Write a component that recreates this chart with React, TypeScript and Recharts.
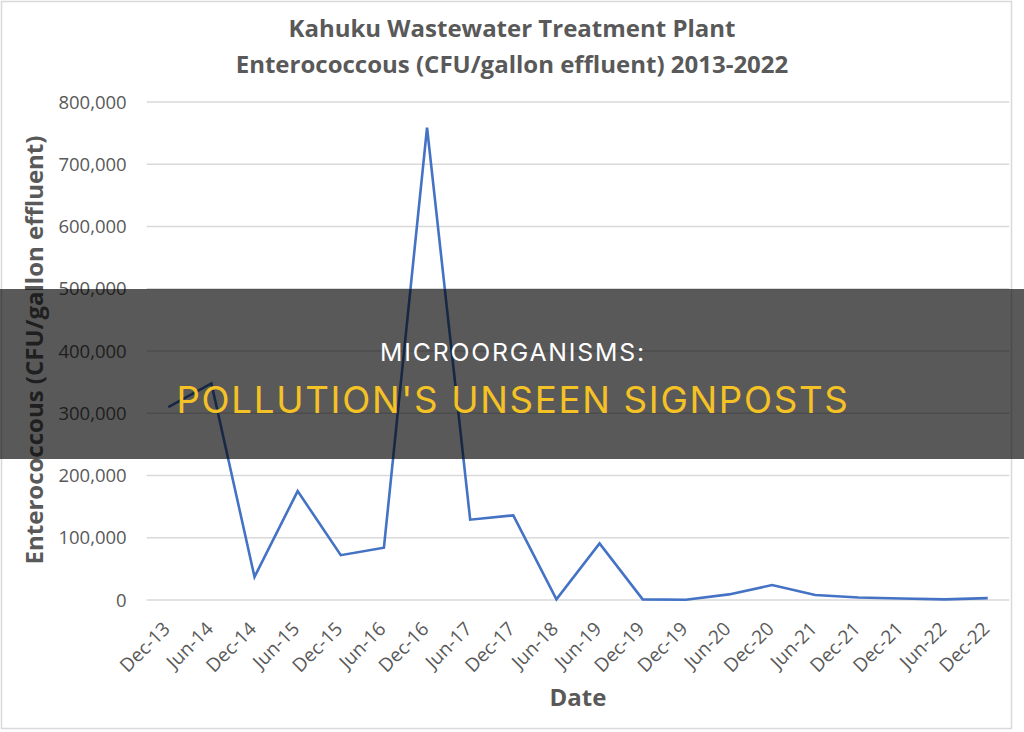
import React from 'react';
import { LineChart, Line, XAxis, YAxis, CartesianGrid } from 'recharts';

const dates = ['Dec-13','Jun-14','Dec-14','Jun-15','Dec-15','Jun-16','Dec-16','Jun-17','Dec-17','Jun-18','Jun-19','Dec-19','Dec-19','Jun-20','Dec-20','Jun-21','Dec-21','Dec-21','Jun-22','Dec-22'];
const values = [310000,348000,37000,175000,72000,84000,759000,129000,136000,1000,91000,1000,500,9000,24000,8000,4000,2500,1000,3000];
const yTicks = [0,100000,200000,300000,400000,500000,600000,700000,800000];
const boundaryTicks = Array.from({ length: dates.length + 1 }, (_, i) => i);

const data = dates.map((d, i) => ({ date: d, idx: i + 0.5, value: values[i] }));
const centerTicks = data.map((d) => d.idx);

const GRAY = '#595959';
const FONT = '"Open Sans", sans-serif';

const XTick = (props: any) => {
  const { x, y, payload } = props;
  const ax = x + 3;
  const ay = y + 30;
  const label = dates[Math.floor(payload.value)];
  return (
    <text x={ax} y={ay} transform={`rotate(-45, ${ax}, ${ay})`} textAnchor="end" fill={GRAY} fontSize={19} fontFamily={FONT}>
      {label}
    </text>
  );
};

export default function App() {
  return (
    <div style={{ position: 'absolute', left: 0, top: 0, width: 1024, height: 732, background: '#fff' }}>
      <LineChart width={1024} height={732} data={data} margin={{ top: 102, right: 14.7, bottom: 0, left: 0 }}>
        <CartesianGrid vertical={false} stroke="#d9d9d9" strokeWidth={1.3} />
        <XAxis xAxisId="b" type="number" dataKey="idx" domain={[0, dates.length]} ticks={boundaryTicks} tick={false} tickSize={9} height={0} axisLine={{ stroke: '#d9d9d9' }} tickLine={{ stroke: '#d9d9d9' }} />
        <XAxis type="number" dataKey="idx" domain={[0, dates.length]} ticks={centerTicks} height={132} axisLine={false} tickLine={false} tickSize={0} tickMargin={0} interval={0} tick={<XTick />} />
        <YAxis width={146.7} domain={[0, 800000]} ticks={yTicks} axisLine={false} tickLine={false} tickSize={0} tickMargin={20}
          tick={{ fill: GRAY, fontSize: 18.5, fontFamily: FONT }} tickFormatter={(v: number) => v.toLocaleString('en-US')} />
        <Line type="linear" dataKey="value" stroke="#4472C4" strokeWidth={2.6} dot={false} isAnimationActive={false} />
      </LineChart>
      <svg width={1024} height={732} style={{ position: 'absolute', left: 0, top: 0, pointerEvents: 'none' }}>
        <rect x={1.5} y={1.5} width={1010} height={727} fill="none" stroke="#d9d9d9" strokeWidth={1.5} />
        <text x={512} y={37} textAnchor="middle" fill={GRAY} fontSize={24} fontWeight="bold" fontFamily={FONT}>Kahuku Wastewater Treatment Plant</text>
        <text x={512} y={72.7} textAnchor="middle" fill={GRAY} fontSize={24} fontWeight="bold" fontFamily={FONT}>Enterococcous (CFU/gallon effluent) 2013-2022</text>
        <text x={43} y={350} transform="rotate(-90, 43, 350)" textAnchor="middle" fill={GRAY} fontSize={24} fontWeight="bold" fontFamily={FONT}>Enterococcous (CFU/gallon effluent)</text>
        <text x={578} y={706} textAnchor="middle" fill={GRAY} fontSize={24} fontWeight="bold" fontFamily={FONT}>Date</text>
        <rect x={0} y={289} width={1024} height={170} fill="rgba(0,0,0,0.65)" />
        <text x={513} y={361} textAnchor="middle" fill="#ffffff" fontSize={24.8} letterSpacing={1.8} fontFamily="Inter, sans-serif">MICROORGANISMS:</text>
        <text x={513} y={413} textAnchor="middle" fill="#F5C226" fontSize={36.7} letterSpacing={1.7} fontFamily="Inter, sans-serif">POLLUTION'S UNSEEN SIGNPOSTS</text>
      </svg>
    </div>
  );
}
